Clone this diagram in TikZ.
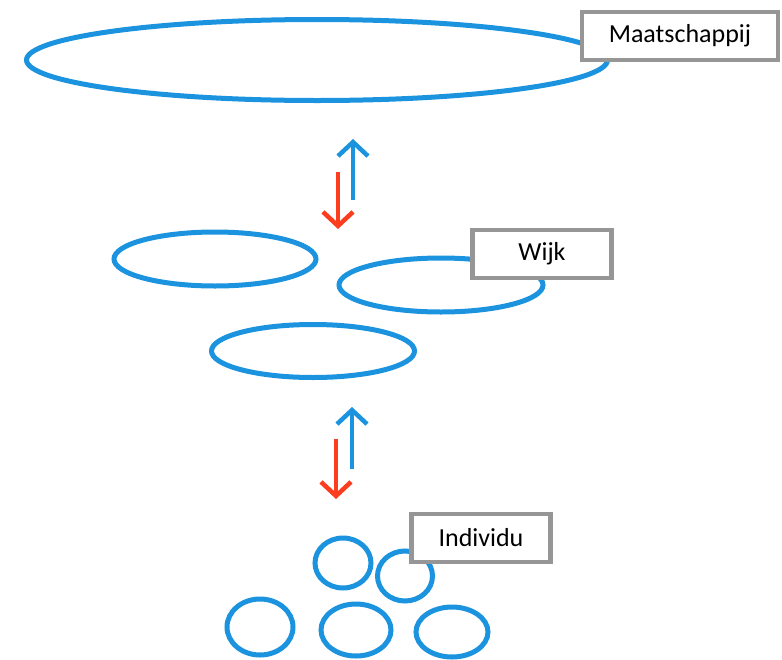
\documentclass[tikz,border=0pt]{standalone}
\usepackage{fontspec}
\setmainfont{Carlito}
\usetikzlibrary{shapes.geometric,arrows.meta}

\definecolor{ringblue}{RGB}{28,147,222}
\definecolor{arrowred}{RGB}{252,62,30}
\definecolor{boxgray}{RGB}{150,150,150}

\tikzset{
  ring/.style={ellipse,draw=ringblue,line width=5pt,inner sep=0pt},
  levelbox/.style={rectangle,draw=boxgray,fill=white,line width=4.5pt,inner sep=0pt,
    font=\fontsize{26}{30}\selectfont},
  uparrow/.style={ringblue,line width=4.5pt,-{Straight Barb[length=14pt,width=30pt]}},
  downarrow/.style={arrowred,line width=4.5pt,-{Straight Barb[length=14pt,width=30pt]}}
}

\begin{document}
\begin{tikzpicture}[x=1pt,y=-1pt]
\useasboundingbox (0,0) rectangle (782,659);

% maatschappij
\node[ring,minimum width=581pt,minimum height=81pt] (society) at (317,60) {};
\node[levelbox,minimum width=196pt,minimum height=48pt] (societylabel) at (680,36) {Maatschappij};

% arrows society - wijk
\coordinate (upA0) at (353,200);
\coordinate (upA1) at (353,139);
\coordinate (downA0) at (338,172);
\coordinate (downA1) at (338,229);
\draw[uparrow] (upA0) -- (upA1);
\draw[downarrow] (downA0) -- (downA1);

% wijk
\node[ring,minimum width=202pt,minimum height=54pt] (wijkA) at (215,259) {};
\node[ring,minimum width=204pt,minimum height=54pt] (wijkB) at (441,285) {};
\node[ring,minimum width=203pt,minimum height=53pt] (wijkC) at (313,351) {};
\node[levelbox,minimum width=139pt,minimum height=48pt] (wijklabel) at (542,254) {Wijk};

% arrows wijk - individu
\coordinate (upB0) at (352,469);
\coordinate (upB1) at (352,407);
\coordinate (downB0) at (336,439);
\coordinate (downB1) at (336,499);
\draw[uparrow] (upB0) -- (upB1);
\draw[downarrow] (downB0) -- (downB1);

% individu
\node[ring,minimum width=56pt,minimum height=50pt] (personA) at (343,563) {};
\node[ring,minimum width=55pt,minimum height=50pt] (personB) at (405,576) {};
\node[ring,minimum width=66pt,minimum height=56pt] (personC) at (260,627) {};
\node[ring,minimum width=70pt,minimum height=52pt] (personD) at (356,630) {};
\node[ring,minimum width=72pt,minimum height=50pt] (personE) at (452,632) {};
\node[levelbox,minimum width=139pt,minimum height=48pt] (personlabel) at (481,538) {Individu};
\end{tikzpicture}
\end{document}
